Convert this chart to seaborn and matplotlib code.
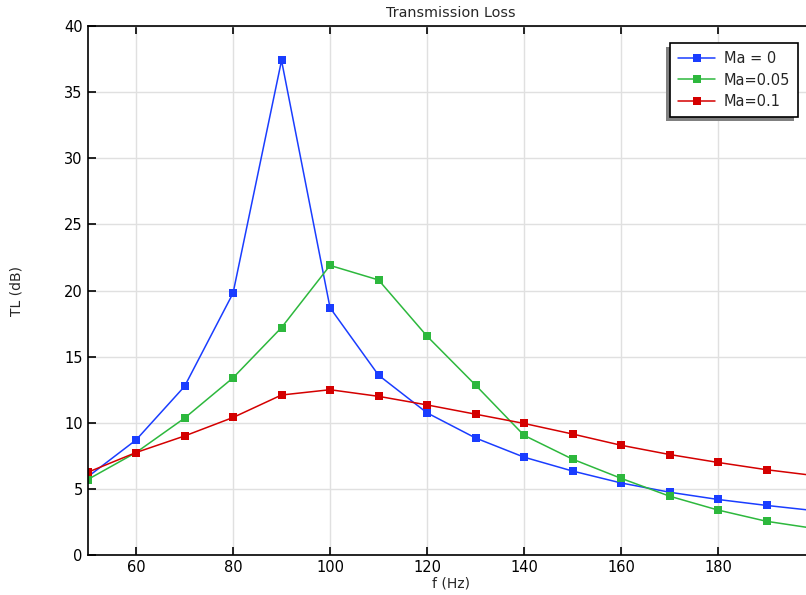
import numpy as np
import pandas as pd
import matplotlib
matplotlib.use("Agg")
import matplotlib.pyplot as plt
import seaborn as sns

freq = [50, 60, 70, 80, 90, 100, 110, 120, 130, 140, 150, 160, 170, 180, 190, 200]
tl_ma0 = [5.9, 8.7, 12.75, 19.8, 37.4, 18.7, 13.6, 10.75, 8.85, 7.4, 6.35, 5.45, 4.75, 4.2, 3.75, 3.35]
tl_ma005 = [5.7, 7.75, 10.35, 13.4, 17.2, 21.9, 20.8, 16.55, 12.85, 9.05, 7.25, 5.8, 4.45, 3.4, 2.55, 2.0]
tl_ma01 = [6.25, 7.75, 9.0, 10.4, 12.1, 12.5, 12.0, 11.35, 10.65, 9.95, 9.15, 8.3, 7.6, 7.0, 6.45, 6.0]
labels = ["Ma = 0", "Ma=0.05", "Ma=0.1"]
colors = ["#1a3dff", "#2db83d", "#d40000"]

df = pd.DataFrame({"f": freq * 3,
                   "TL": tl_ma0 + tl_ma005 + tl_ma01,
                   "case": [labels[0]] * len(freq) + [labels[1]] * len(freq) + [labels[2]] * len(freq)})

sns.set_style("white")
plt.rcParams['font.family'] = ['DejaVu Sans']

fig = plt.figure(figsize=(8.06, 5.95), dpi=100)
ax = fig.add_axes([0.1086, 0.0672, 0.9026, 0.889])

sns.lineplot(data=df, x="f", y="TL", hue="case", palette=colors, marker="s",
             markersize=6, markeredgewidth=0, linewidth=1.1, ax=ax, legend=False)

ax.set_xlim(50, 200)
ax.set_ylim(0, 40)
ax.set_xticks([60, 80, 100, 120, 140, 160, 180])
ax.set_yticks(range(0, 41, 5))
ax.grid(True, color="#e0e0e0", linewidth=1)
ax.set_axisbelow(True)
for s in ["left", "top", "bottom"]:
    ax.spines[s].set_color("black")
    ax.spines[s].set_linewidth(1.2)
ax.spines["right"].set_visible(False)
ax.tick_params(direction="in", length=6, width=1.2, top=True, bottom=True, left=True,
               labelsize=10.5, colors="black", pad=3.5)
ax.tick_params(axis="x", labeltop=False)

ax.set_title("Transmission Loss", fontsize=10.4, pad=6.5)
ax.set_xlabel("f (Hz)", fontsize=10, labelpad=1)
ax.set_ylabel("TL (dB)", fontsize=10, labelpad=29)

# legend, placed in figure coords, with a solid grey drop shadow to the lower left
handles = [plt.Line2D([], [], color=c, marker="s", markersize=5.5, markeredgewidth=0, linewidth=1.1)
           for c in colors]
leg = ax.legend(handles, labels, loc="upper right", bbox_to_anchor=(798 / 806, 1 - 43 / 595),
                bbox_transform=fig.transFigure, borderaxespad=0,
                fontsize=10.5, frameon=True, fancybox=False, shadow=False, framealpha=1,
                edgecolor="black", borderpad=0.55, handlelength=2.5, handletextpad=0.6,
                labelspacing=0.45)
leg.get_frame().set_linewidth(1.2)
leg.set_zorder(10)
fig.canvas.draw()
bb = leg.get_window_extent()
shadow = plt.Rectangle((bb.x0 - 4, bb.y0 - 4), bb.width, bb.height, transform=None,
                       facecolor="#808080", edgecolor="none", clip_on=False, zorder=9)
ax.add_artist(shadow)

fig.savefig("out.png", dpi=100)
